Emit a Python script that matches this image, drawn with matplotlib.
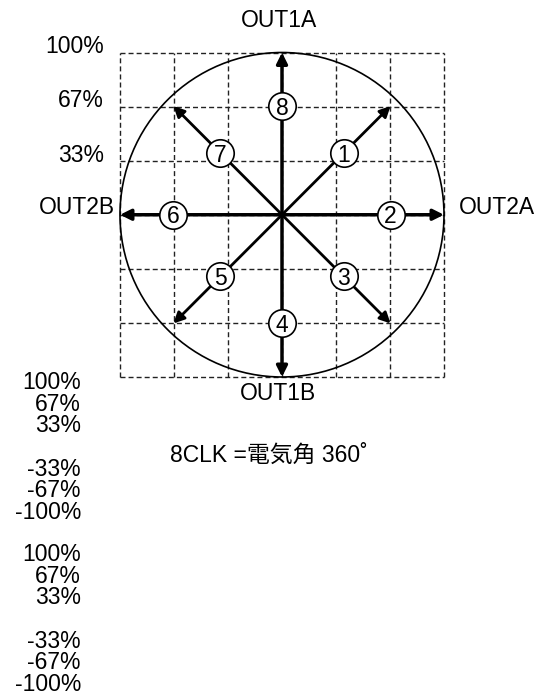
import matplotlib
matplotlib.use("Agg")
import matplotlib.pyplot as plt
from matplotlib.patches import Circle

plt.rcParams["font.family"] = ["Liberation Sans", "Noto Sans CJK JP"]
plt.rcParams["font.size"] = 16.5

# Step vectors (1..8) of the 8-clock sequence, in % of full current
step_labels = ["1", "2", "3", "4", "5", "6", "7", "8"]
tip_x = [67, 100, 67, 0, -67, -100, -67, 0]
tip_y = [67, 0, -67, -100, -67, 0, 67, 100]
marker_x = [38, 67, 38, 0, -38, -67, -38, 0]
marker_y = [38, 0, -38, -67, -38, 0, 38, 67]

grid_levels = [-100, -66.7, -33.3, 0, 33.3, 66.7, 100]
top_ticks = [100, 66.7, 33.3]
top_labels = ["100%", "67%", "33%"]

wave_ticks = [100, 66.7, 33.3, -33.3, -66.7, -100]
wave_labels = ["100%", "67%", "33%", "-33%", "-67%", "-100%"]

caption = "8CLK =電気角 360˚"

W, H = 554, 696


def fx(px):
    return px / W


def fy(py):
    return 1 - py / H


fig = plt.figure(figsize=(W / 100, H / 100), dpi=100)

# Main vector diagram
ax = fig.add_axes([fx(120), fy(377), (444 - 120) / W, (377 - 52.5) / H])
ax.set_xlim(-100, 100)
ax.set_ylim(-100, 100)
ax.axis("off")

for g in grid_levels:
    ax.plot([g, g], [-100, 100], ls=(0, (3.6, 2.2)), color="#222222", lw=1,
            clip_on=False, zorder=1)
    ax.plot([-100, 100], [g, g], ls=(0, (3.6, 2.2)), color="#222222", lw=1,
            clip_on=False, zorder=1)

ax.add_patch(Circle((0, 0), 100, fill=False, ec="black", lw=1.2,
                    clip_on=False, zorder=2))

for x, y in zip(tip_x, tip_y):
    lw = 2.5 if x == 0 or y == 0 else 2.0
    ax.annotate("", xy=(x, y), xytext=(0, 0),
                arrowprops=dict(arrowstyle="-|>", color="black", lw=lw,
                                mutation_scale=16, shrinkA=0, shrinkB=0),
                annotation_clip=False, zorder=3)

ax.scatter(marker_x, marker_y, s=390, facecolor="white", edgecolor="black",
           lw=1.2, zorder=4, clip_on=False)
for x, y, lab in zip(marker_x, marker_y, step_labels):
    ax.annotate(lab, xy=(x, y), xytext=(0, -1.5), textcoords="offset points",
                ha="center", va="center", zorder=5)

for val, lab in zip(top_ticks, top_labels):
    ax.annotate(lab, xy=(0, val), xycoords=("axes fraction", "data"),
                xytext=(-11.5, 4), textcoords="offset points",
                ha="right", va="center")

# Axis names
fig.text(fx(279), fy(20.7), "OUT1A", ha="center", va="center")
fig.text(fx(459), fy(207), "OUT2A", ha="left", va="center")
fig.text(fx(115), fy(207), "OUT2B", ha="right", va="center")
fig.text(fx(278), fy(394), "OUT1B", ha="center", va="center")

fig.text(fx(170), fy(455), caption, ha="left", va="center")

# Current level scales of the two (empty) waveform panels
for top, bot in [(380, 510), (552, 682)]:
    a = fig.add_axes([fx(81), fy(bot), 0.5, (bot - top) / H])
    a.set_ylim(-100, 100)
    a.set_yticks(wave_ticks, wave_labels)
    a.set_xticks([])
    a.tick_params(axis="y", length=0, pad=0, labelsize=16.5)
    for s in a.spines.values():
        s.set_visible(False)
    a.patch.set_visible(False)

fig.savefig("out.png", dpi=100)
